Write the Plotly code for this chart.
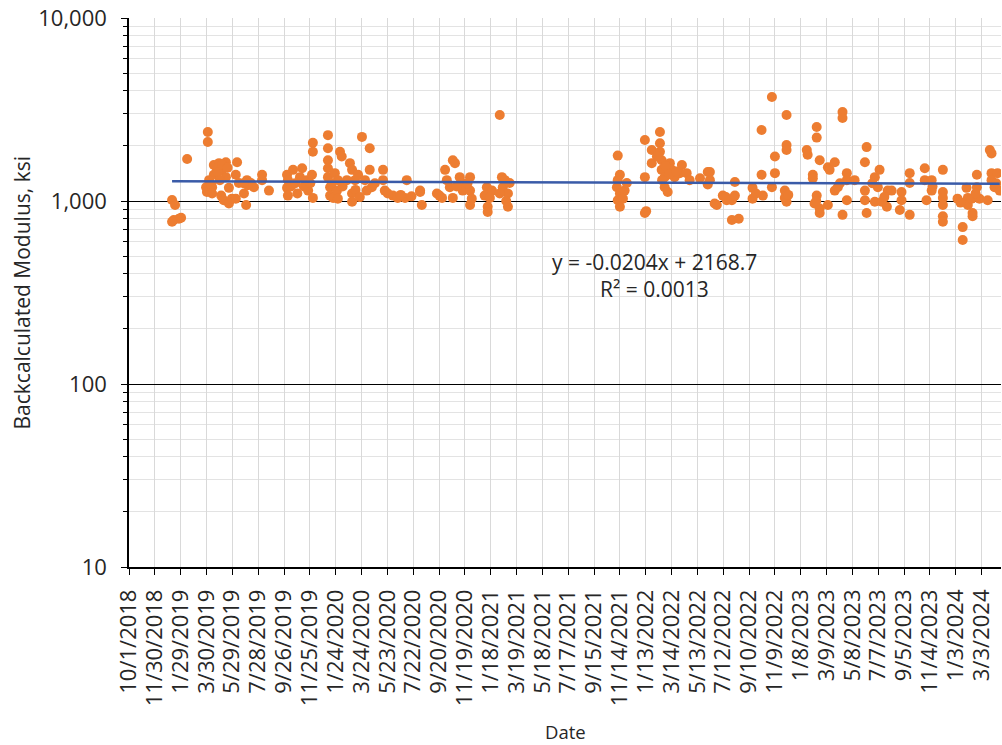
import pandas as pd
import plotly.graph_objects as go

# Test dates as Excel serial day numbers (the trendline equation uses them)
DATE_SERIAL = [
    # 2019
    43474, 43481, 43478, 43490, 43474, 43495, 43509, 43557, 43557,
    43571, 43583, 43599, 43590, 43578, 43571, 43599, 43553, 43555, 43567,
    43560, 43588, 43594, 43606, 43606, 43613, 43622, 43625, 43622, 43629,
    43641, 43646, 43648, 43657, 43664, 43683, 43683, 43699,
    43565, 43580, 43590, 43603, 43585, 43567, 43650, 43640,
    43741, 43743, 43741, 43743, 43755, 43776, 43771, 43787, 43790, 43801,
    43801, 43801, 43799,
    # 2020
    43836, 43836, 43836, 43836, 43836, 43841, 43841, 43848, 43852, 43859,
    43864, 43868, 43857, 43859, 43887, 43892, 43892, 43892, 43899, 43906,
    43915, 43933, 43922, 43933, 43938, 43926, 43964, 43964, 43968, 43987,
    43998, 44019, 44015, 44050, 44054,
    43750, 43760, 43765, 43780, 43795, 43845, 43870, 43880, 43900, 43910,
    43945, 43975, 44005, 44030,
    44050, 44089, 44101, 44108, 44112, 44119, 44126, 44131, 44126, 44142,
    44147, 44149, 44166, 44166, 44166, 44170,
    44095, 44135, 44160,
    # 2021
    44205, 44200, 44207, 44207, 44217, 44235, 44240, 44242, 44247, 44254,
    44254, 44258, 44235, 44212, 44250,
    44509, 44514, 44509, 44507, 44514, 44509, 44514, 44525, 44521, 44530,
    # 2022
    44572, 44572, 44572, 44588, 44588, 44607, 44607, 44607, 44611, 44611,
    44618, 44618, 44625, 44630, 44634, 44641, 44658, 44653, 44669, 44676,
    44700, 44718, 44718, 44734,
    44575, 44620, 44628, 44645, 44612, 44600,
    44723, 44723, 44739, 44753, 44762, 44774, 44774, 44781, 44781,
    44822, 44822, 44843, 44843, 44846, 44867, 44867, 44874, 44874, 44901,
    44901, 44901, 44897, 44897, 44901,
    44760, 44790, 44830, 44905,
    # 2023
    44948, 44950, 44962, 44962, 44971, 44971, 44978, 44971, 44966, 44978,
    44978, 44997, 44997, 45001, 45013, 45013, 45020, 45031, 45031, 45041,
    45041, 45041, 45031, 45059,
    44970, 45025,
    45087, 45083, 45083, 45083, 45087, 45106, 45117, 45113, 45106, 45122,
    45134, 45136, 45145, 45168, 45168, 45164, 45187, 45187, 45187, 45222,
    45222, 45226, 45238, 45238, 45264, 45264, 45264, 45264, 45264, 45264,
    45100, 45128, 45240,
    # 2024
    45298, 45310, 45310, 45319, 45322, 45322, 45333, 45333, 45331, 45343,
    45343, 45349, 45368, 45373, 45377, 45377, 45377, 45384, 45391, 45396,
    45305, 45340, 45388,
]

MODULUS_KSI = [
    1013, 950, 788, 800, 770, 810, 1696, 2383, 2100,
    1573, 1610, 1630, 1480, 1510, 1390, 1350, 1190, 1120, 1190,
    1300, 1070, 1010, 970, 1180, 1030, 1030, 1630, 1390, 1254,
    1100, 950, 1300, 1254, 1190, 1390, 1300, 1140,
    1230, 1430, 1580, 1520, 1300, 1100, 1220, 1250,
    1390, 1300, 1180, 1070, 1480, 1510, 1350, 1300, 1140, 1040,
    2080, 1860, 1390,
    2290, 1940, 1670, 1510, 1350, 1190, 1070, 1040, 1420, 1300,
    1860, 1750, 1140, 1030, 1610, 1480, 1100, 990, 1300, 1390,
    2240, 1940, 1300, 1480, 1190, 1140, 1480, 1300, 1140, 1070,
    1040, 1300, 1040, 1140, 950,
    1200, 1250, 1100, 1200, 1250, 1250, 1200, 1300, 1150, 1050,
    1250, 1100, 1080, 1060,
    1120, 1100, 1040, 1480, 1300, 1190, 1670, 1610, 1040, 1350,
    1254, 1140, 1350, 1140, 950, 1030,
    1070, 1200, 1250,
    1190, 1070, 930, 870, 1140, 2951, 1350, 1190, 1300, 1100,
    930, 1254, 1100, 1040, 1000,
    1770, 1390, 1300, 1190, 1100, 1010, 930, 1140, 1030, 1254,
    2154, 1350, 860, 1900, 1610, 2383, 2070, 1860, 1670, 1480,
    1350, 1190, 1120, 1610, 1480, 1350, 1573, 1420, 1420, 1300,
    1330, 1440, 1230, 970,
    880, 1550, 1400, 1450, 1300, 1750,
    1440, 1300, 950, 1070, 1010, 1010, 788, 1270, 1070,
    1180, 1030, 2444, 1390, 1070, 3700, 1190, 1750, 1420, 2951,
    2020, 1900, 1140, 1040, 990,
    1050, 800, 1100, 1080,
    1900, 1790, 1390, 1330, 2540, 2220, 1670, 1070, 970, 910,
    860, 1530, 950, 1480, 1630, 1140, 1190, 3060, 2840, 1420,
    1300, 1010, 840, 1300,
    1000, 1250,
    1970, 1630, 1140, 1010, 860, 1350, 1480, 1190, 990, 990,
    930, 1140, 1140, 1120, 1010, 893, 1420, 1254, 840, 1510,
    1300, 1010, 1300, 1140, 1480, 1120, 1040, 950, 825, 770,
    1250, 1050, 1200,
    1030, 720, 612, 1180, 1040, 950, 860, 825, 1030, 1390,
    1190, 1030, 1010, 1900, 1820, 1420, 1300, 1190, 1420, 1140,
    980, 1100, 1250,
]

# Linear trendline reported on the chart (x = Excel serial date)
TREND_SLOPE = -0.0204
TREND_INTERCEPT = 2168.7

X_TICK_LABELS = [
    "10/1/2018", "11/30/2018", "1/29/2019", "3/30/2019", "5/29/2019",
    "7/28/2019", "9/26/2019", "11/25/2019", "1/24/2020", "3/24/2020",
    "5/23/2020", "7/22/2020", "9/20/2020", "11/19/2020", "1/18/2021",
    "3/19/2021", "5/18/2021", "7/17/2021", "9/15/2021", "11/14/2021",
    "1/13/2022", "3/14/2022", "5/13/2022", "7/12/2022", "9/10/2022",
    "11/9/2022", "1/8/2023", "3/9/2023", "5/8/2023", "7/7/2023",
    "9/5/2023", "11/4/2023", "1/3/2024", "3/3/2024",
]
Y_TICK_VALUES = [10, 100, 1000, 10000]
Y_TICK_LABELS = ["10", "100", "1,000", "10,000"]

FONT = "Open Sans"
TEXT = "#262626"

dates = pd.to_datetime(pd.Series(DATE_SERIAL), unit="D", origin="1899-12-30")
tick_dates = pd.to_datetime(X_TICK_LABELS, format="%m/%d/%Y")

trend_serial = [min(DATE_SERIAL), max(DATE_SERIAL)]
trend_dates = pd.to_datetime(pd.Series(trend_serial), unit="D", origin="1899-12-30")
trend_vals = [TREND_SLOPE * s + TREND_INTERCEPT for s in trend_serial]

fig = go.Figure()
fig.add_trace(go.Scatter(
    x=dates, y=MODULUS_KSI, mode="markers",
    marker=dict(color="#ED7D31", size=10, line=dict(width=0)),
))
fig.add_trace(go.Scatter(
    x=trend_dates, y=trend_vals, mode="lines",
    line=dict(color="#3A5BA8", width=2.5),
))

fig.update_layout(
    width=1002, height=745,
    margin=dict(l=129, r=1, t=18, b=178),
    paper_bgcolor="white", plot_bgcolor="white",
    showlegend=False,
    font=dict(family=FONT, color=TEXT),
)

fig.update_xaxes(
    type="date", automargin=False,
    range=["2018-10-01", "2024-04-17"],
    tickvals=tick_dates, ticktext=X_TICK_LABELS,
    tickangle=-90, tickfont=dict(size=22, family=FONT, color=TEXT),
    ticks="outside", ticklen=6, tickcolor="black",
    ticklabelstandoff=6,
    showline=True, linecolor="black", linewidth=1.5,
    showgrid=True, gridcolor="#D9D9D9", gridwidth=1,
    zeroline=False,
)
fig.update_yaxes(
    type="log", automargin=False, range=[1, 4],
    tickvals=Y_TICK_VALUES, ticktext=Y_TICK_LABELS,
    tickfont=dict(size=22, family=FONT, color=TEXT),
    ticks="outside", ticklen=6, tickcolor="black",
    ticklabelstandoff=10,
    showline=True, linecolor="black", linewidth=1.5,
    showgrid=True, gridcolor="black", gridwidth=1.2,
    minor=dict(dtick="D1", ticks="outside", ticklen=4, tickcolor="black",
               showgrid=True, gridcolor="#E3E3E3", gridwidth=1),
    zeroline=False,
)

fig.add_annotation(
    text="Backcalculated Modulus, ksi", textangle=-90,
    xref="paper", yref="paper", x=0, y=0.5, xanchor="center", yanchor="middle",
    xshift=-108, showarrow=False,
    font=dict(size=21, family=FONT, color=TEXT),
)
fig.add_annotation(
    text="Date", xref="paper", yref="paper", x=0.5, y=0,
    xanchor="center", yanchor="middle", yshift=-164,
    showarrow=False, font=dict(size=18.5, family=FONT, color=TEXT),
)
fig.add_annotation(
    text="y = -0.0204x + 2168.7", xref="paper", yref="paper", x=0.603, y=0.5556,
    xanchor="center", yanchor="middle", showarrow=False,
    font=dict(size=21, family=FONT, color=TEXT),
)
fig.add_annotation(
    text="R² = 0.0013", xref="paper", yref="paper", x=0.603, y=0.5064,
    xanchor="center", yanchor="middle", showarrow=False,
    font=dict(size=21, family=FONT, color=TEXT),
)

# drop the browser's default body margin so the 1002x745 figure fills the window
fig.write_html(
    "out.html",
    config={"displayModeBar": False},
    post_script="document.body.style.margin='0px';",
)
